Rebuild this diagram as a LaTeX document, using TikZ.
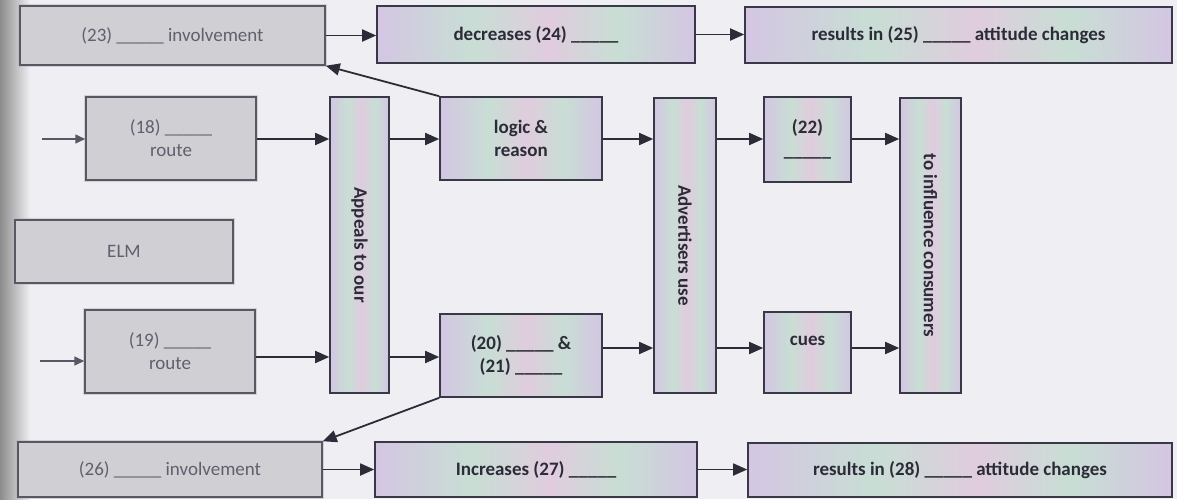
\documentclass[tikz,border=0pt]{standalone}
\usepackage{fontspec}
\setmainfont{Carlito}
\usetikzlibrary{arrows.meta}

\definecolor{bg}{RGB}{239,239,243}
\definecolor{ink}{RGB}{44,44,56}
\definecolor{frame}{RGB}{56,56,70}
\definecolor{irA}{RGB}{212,198,226}
\definecolor{irB}{RGB}{200,222,212}
\definecolor{irC}{RGB}{224,204,222}
\definecolor{greyfill}{RGB}{207,207,212}
\definecolor{greyframe}{RGB}{88,88,100}
\definecolor{greyink}{RGB}{96,96,110}

% pastel, slightly iridescent fill of the coloured boxes
\pgfdeclarehorizontalshading{iridescent}{100bp}{color(0bp)=(irA); color(25bp)=(irA);
  color(40bp)=(irB); color(52bp)=(irC); color(63bp)=(irB); color(75bp)=(irA); color(100bp)=(irA)}

\tikzset{
  iribox/.style={draw=frame, line width=1.6pt, shade, shading=iridescent,
    text=ink, font=\fontsize{19}{23}\selectfont\bfseries, align=center, inner sep=0pt},
  greybox/.style={draw=greyframe, line width=1.5pt, fill=greyfill, text=greyink,
    font=\fontsize{19}{23}\selectfont, align=center, inner sep=0pt,
    preaction={draw=greyframe!45, line width=3.5pt, opacity=0.5}},
  arr/.style={draw=ink, line width=1.8pt, -{Triangle[length=14pt,width=12pt]}},
  stub/.style={draw=greyframe, line width=1.6pt, -{Triangle[length=10pt,width=9pt]}},
}

\begin{document}
\begin{tikzpicture}[x=1pt, y=-1pt]
\useasboundingbox (0,0) rectangle (1177,499);
\fill[bg] (0,0) rectangle (1177,499);
\shade[left color=black!45, right color=bg] (0,0) rectangle (30,499);

% left column: routes and involvement
\node[greybox, minimum width=305pt, minimum height=59pt] (inv23) at (172.5,35.5) {(23) \_\_\_\_\_ involvement};
\node[greybox, minimum width=170pt, minimum height=83pt] (r18) at (171,138.5) {(18) \_\_\_\_\_\\route};
\node[greybox, minimum width=218pt, minimum height=63pt] (elm) at (124,251.5) {ELM};
\node[greybox, minimum width=170pt, minimum height=83pt] (r19) at (170,351.5) {(19) \_\_\_\_\_\\route};
\node[greybox, minimum width=304pt, minimum height=55pt] (inv26) at (170,469.5) {(26) \_\_\_\_\_ involvement};

% top and bottom rows
\node[iribox, minimum width=318pt, minimum height=57pt] (dec24) at (536,34.5) {decreases (24) \_\_\_\_\_};
\node[iribox, minimum width=427pt, minimum height=56pt] (res25) at (958.5,35) {results in (25) \_\_\_\_\_ attitude changes};
\node[iribox, minimum width=322pt, minimum height=55pt] (inc27) at (536,469.5) {Increases (27) \_\_\_\_\_};
\node[iribox, minimum width=424pt, minimum height=54pt] (res28) at (960,470) {results in (28) \_\_\_\_\_ attitude changes};

% central chain
\node[iribox, minimum width=59pt, minimum height=296pt] (appeals) at (359.5,245) {\rotatebox{-90}{Appeals to our}};
\node[iribox, minimum width=162pt, minimum height=83pt] (logic) at (521,138.5) {logic \&\\reason};
\node[iribox, minimum width=162pt, minimum height=83pt] (p2021) at (521,355.5) {(20) \_\_\_\_\_ \&\\(21) \_\_\_\_\_};
\node[iribox, minimum width=62pt, minimum height=295pt] (adv) at (685,245.5) {\rotatebox{-90}{Advertisers use}};
\node[iribox, minimum width=87pt, minimum height=85pt] (b22) at (807.5,139.5) {(22)\\\_\_\_\_\_};
\node[iribox, minimum width=87pt, minimum height=81pt, text depth=24pt] (cues) at (807.5,352.5) {cues};
\node[iribox, minimum width=61pt, minimum height=295pt] (infl) at (930.5,245.5) {\rotatebox{-90}{to influence consumers}};

% arrow rows
\coordinate (rowA) at (0,139);
\coordinate (rowB) at (0,357);
\coordinate (rowC) at (0,348);
\coordinate (s18) at (42,139);
\coordinate (s19) at (40,361);

\draw[stub] (s18) -- (r18.west |- s18);
\draw[stub] (s19) -- (r19.west |- s19);

\draw[arr] (r18.east |- rowA) -- (appeals.west |- rowA);
\draw[arr] (appeals.east |- rowA) -- (logic.west |- rowA);
\draw[arr] (logic.east |- rowA) -- (adv.west |- rowA);
\draw[arr] (adv.east |- rowA) -- (b22.west |- rowA);
\draw[arr] (b22.east |- rowA) -- (infl.west |- rowA);

\draw[arr] (r19.east |- rowB) -- (appeals.west |- rowB);
\draw[arr] (appeals.east |- rowB) -- (p2021.west |- rowB);
\draw[arr] (p2021.east |- rowC) -- (adv.west |- rowC);
\draw[arr] (adv.east |- rowC) -- (cues.west |- rowC);
\draw[arr] (cues.east |- rowC) -- (infl.west |- rowC);

\draw[arr] (inv23.east) -- (inv23.east -| dec24.west);
\draw[arr] (dec24.east) -- (dec24.east -| res25.west);
\draw[arr] (inv26.east) -- (inv26.east -| inc27.west);
\draw[arr] (inc27.east) -- (inc27.east -| res28.west);

\draw[arr] (logic.north west) -- (inv23.south east);
\draw[arr] (p2021.south west) -- (inv26.north east);
\end{tikzpicture}
\end{document}
